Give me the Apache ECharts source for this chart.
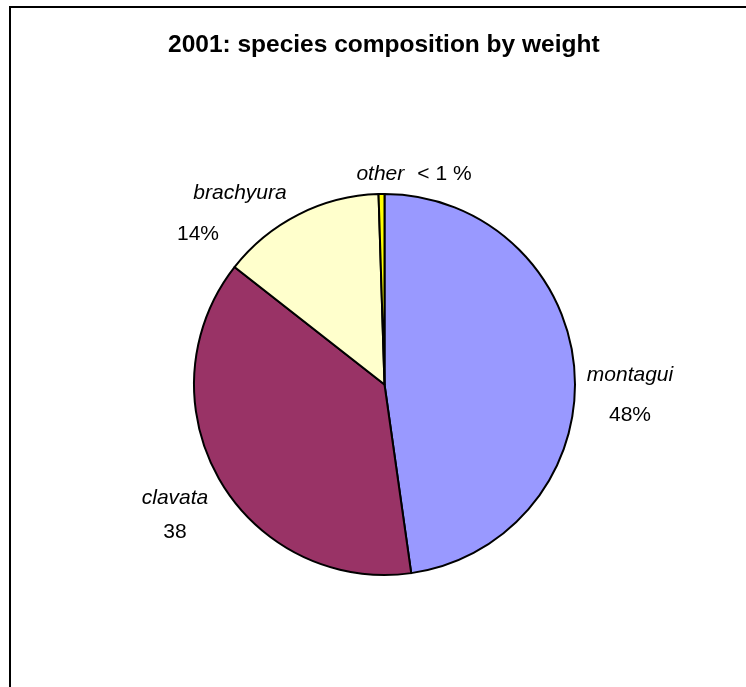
<!DOCTYPE html>
<html>
<head>
<meta charset="utf-8">
<script src="https://cdn.jsdelivr.net/npm/echarts@6/dist/echarts.min.js"></script>
<style>
  html, body { margin: 0; padding: 0; background: #fff; }
  #chart { width: 746px; height: 687px; }
</style>
</head>
<body>
<div id="chart"></div>
<script>
// Species shares of the 2001 catch, by weight (%)
const species = ['montagui', 'clavata', 'brachyura', 'other'];
const shares = [48, 38, 14, 0.5];
const shareLabels = ['48%', '38', '14%', '< 1 %'];
const sliceColors = ['#9999FF', '#993366', '#FFFFCC', '#FFFF00'];

// Where each label block sits around the pie (px), and line spacing of its two lines
const labelSpots = [[630, 395], [175, 515], [240, 213.5], [414, 174]];
const labelGaps = [40, 34, 41, 0];
const valueShift = [0, 0, 84, 0];

const FONT = '"Liberation Sans", Arial, sans-serif';

const pieData = species.map((name, i) => {
  const gap = labelGaps[i];
  const label = gap
    ? {
        formatter: '{n|' + name + '}\n{v|' + shareLabels[i] + '}',
        rich: {
          n: { fontStyle: 'italic', fontSize: 21, fontFamily: FONT, color: '#000', lineHeight: gap, align: 'center' },
          v: { fontSize: 21, fontFamily: FONT, color: '#000', lineHeight: gap, align: 'center',
               padding: [0, valueShift[i], 0, 0] }
        }
      }
    : {
        formatter: '{n|' + name + '}{v|' + shareLabels[i] + '}',
        rich: {
          n: { fontStyle: 'italic', fontSize: 21, fontFamily: FONT, color: '#000', padding: [0, 13, 0, 0] },
          v: { fontSize: 21, fontFamily: FONT, color: '#000' }
        }
      };
  return {
    name: name,
    value: shares[i],
    itemStyle: { color: sliceColors[i] },
    label: label
  };
});

const chart = echarts.init(document.getElementById('chart'), null, { renderer: 'canvas' });

chart.setOption({
  animation: false,
  backgroundColor: '#ffffff',
  title: {
    text: '2001: species composition by weight',
    left: 168,
    top: 33,
    padding: 0,
    textStyle: { fontFamily: FONT, fontWeight: 'bold', fontSize: 24.5, color: '#000' }
  },
  graphic: [{
    type: 'rect',
    shape: { x: 10, y: 7, width: 760, height: 700 },
    style: { fill: 'none', stroke: '#000', lineWidth: 2 },
    silent: true
  }],
  series: [{
    type: 'pie',
    center: [384.5, 384.5],
    radius: [0, 190.5],
    startAngle: 90,
    clockwise: true,
    avoidLabelOverlap: false,
    label: { show: true, position: 'outside' },
    labelLine: { show: false },
    labelLayout: function (params) {
      const p = labelSpots[params.dataIndex];
      return { x: p[0], y: p[1], align: 'center', verticalAlign: 'middle' };
    },
    itemStyle: { borderColor: '#000', borderWidth: 2 },
    emphasis: { disabled: true },
    data: pieData
  }]
});
</script>
</body>
</html>
